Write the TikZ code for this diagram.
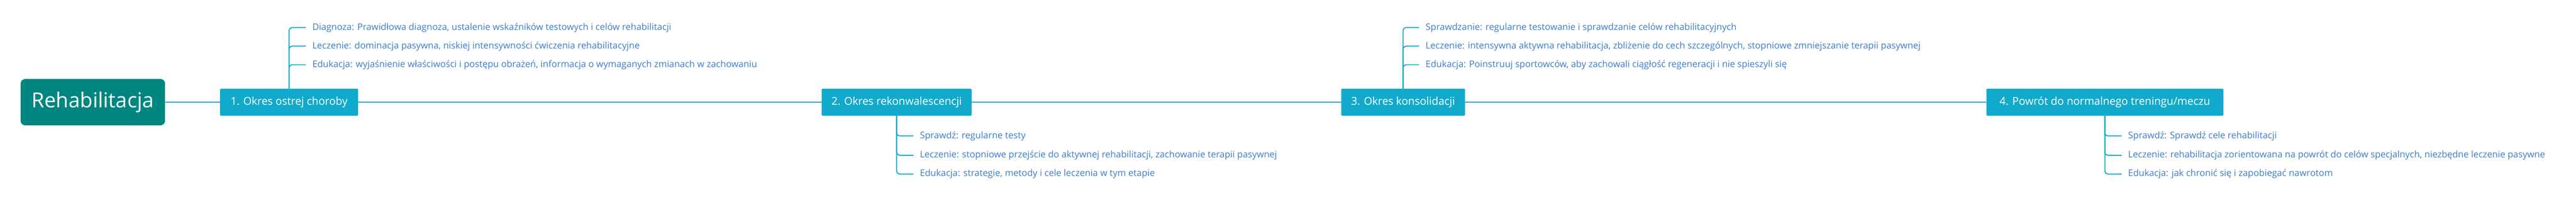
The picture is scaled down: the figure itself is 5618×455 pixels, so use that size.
\documentclass[tikz,border=0pt]{standalone}
\usepackage{fontspec}
\setmainfont{Open Sans}
\definecolor{rootc}{RGB}{0,134,128}
\definecolor{topicc}{RGB}{18,170,204}
\definecolor{linec}{RGB}{18,170,204}
\definecolor{leafc}{RGB}{59,125,203}
\begin{document}
\begin{tikzpicture}[x=1pt,y=-1pt,
  rootbox/.style={fill=rootc, rounded corners=10pt, text=white, minimum width=315pt, minimum height=101pt, inner sep=0pt, font=\fontsize{45}{54}\selectfont},
  topicbox/.style={fill=topicc, rounded corners=2pt, text=white, minimum height=59pt, inner sep=0pt, font=\fontsize{23.5}{28}\selectfont},
  leaf/.style={anchor=west, text=leafc, inner xsep=14pt, inner ysep=0pt, font=\fontsize{19.9}{24}\selectfont},
  mainline/.style={draw=linec, line width=1.5pt},
  branch/.style={draw=linec, line width=2.2pt, rounded corners=7pt}]
\useasboundingbox (0,0) rectangle (5618,455);
% root and topics
\node[rootbox] (root) at (202.5,222.5) {Rehabilitacja};
\node[topicbox, minimum width=301pt] (t1) at (630.5,222.5) {1. Okres ostrej choroby};
\node[topicbox, minimum width=327pt] (t2) at (1955.5,222.5) {2. Okres rekonwalescencji};
\node[topicbox, minimum width=270pt] (t3) at (3060,222.5) {3. Okres konsolidacji};
\node[topicbox, minimum width=517pt] (t4) at (4590.5,222.5) {4. Powrót do normalnego treningu/meczu};
% main connectors
\draw[mainline] (root.east) -- (t1.west);
\draw[mainline] (t1.east) -- (t2.west);
\draw[mainline] (t2.east) -- (t3.west);
\draw[mainline] (t3.east) -- (t4.west);
% leaves of topic 1
\node[leaf] (l11) at (667,60) {Diagnoza: Prawidłowa diagnoza, ustalenie wskaźników testowych i celów rehabilitacji};
\node[leaf] (l12) at (667,100.5) {Leczenie: dominacja pasywna, niskiej intensywności ćwiczenia rehabilitacyjne};
\node[leaf] (l13) at (667,141) {Edukacja: wyjaśnienie właściwości i postępu obrażeń, informacja o wymaganych zmianach w zachowaniu};
\foreach \l in {l11,l12,l13} \draw[branch] (t1.north) |- (\l.west);
% leaves of topic 2
\node[leaf] (l21) at (1992,296) {Sprawdź: regularne testy};
\node[leaf] (l22) at (1992,338) {Leczenie: stopniowe przejście do aktywnej rehabilitacji, zachowanie terapii pasywnej};
\node[leaf] (l23) at (1992,379) {Edukacja: strategie, metody i cele leczenia w tym etapie};
\foreach \l in {l21,l22,l23} \draw[branch] (t2.south) |- (\l.west);
% leaves of topic 3
\node[leaf] (l31) at (3095,60) {Sprawdzanie: regularne testowanie i sprawdzanie celów rehabilitacyjnych};
\node[leaf] (l32) at (3095,100.5) {Leczenie: intensywna aktywna rehabilitacja, zbliżenie do cech szczególnych, stopniowe zmniejszanie terapii pasywnej};
\node[leaf] (l33) at (3095,141) {Edukacja: Poinstruuj sportowców, aby zachowali ciągłość regeneracji i nie spieszyli się};
\foreach \l in {l31,l32,l33} \draw[branch] (t3.north) |- (\l.west);
% leaves of topic 4
\node[leaf] (l41) at (4627,296) {Sprawdź: Sprawdź cele rehabilitacji};
\node[leaf] (l42) at (4627,338) {Leczenie: rehabilitacja zorientowana na powrót do celów specjalnych, niezbędne leczenie pasywne};
\node[leaf] (l43) at (4627,379) {Edukacja: jak chronić się i zapobiegać nawrotom};
\foreach \l in {l41,l42,l43} \draw[branch] (t4.south) |- (\l.west);
\end{tikzpicture}
\end{document}
